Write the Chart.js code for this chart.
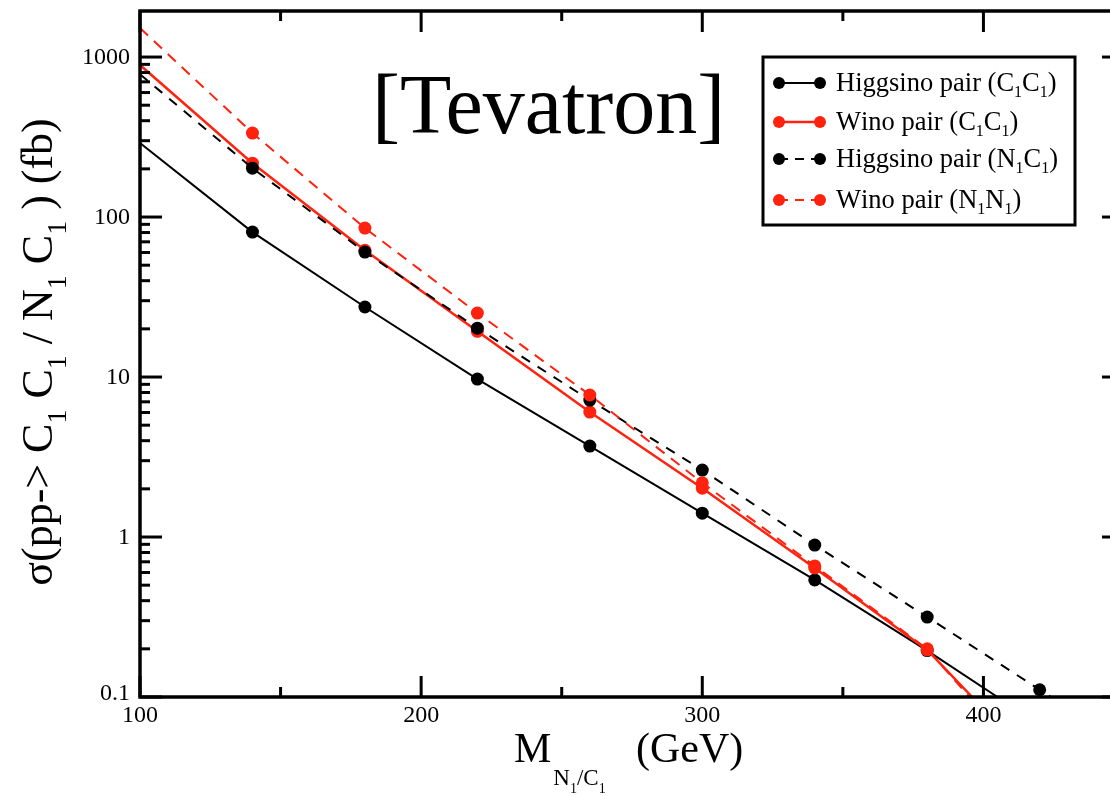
<!DOCTYPE html>
<html>
<head>
<meta charset="utf-8">
<script src="https://cdn.jsdelivr.net/npm/chart.js@4/dist/chart.umd.min.js"></script>
<style>
  html, body { margin: 0; padding: 0; background: #fff; overflow: hidden; width: 1110px; height: 796px; }
  #wrap { position: relative; width: 1110px; height: 796px; overflow: hidden; }
  canvas { display: block; }
</style>
</head>
<body>
<div id="wrap"><canvas id="c" width="1140" height="796"></canvas></div>
<script>
// Chargino / neutralino pair production cross sections at the Tevatron (fb)
// First and last entries of each series are where the curve enters / leaves the frame.
const massHiggsinoC1C1  = [100, 140, 180, 220, 260, 300, 340, 380, 405];
const sigmaHiggsinoC1C1 = [290, 80.5, 27.4, 9.71, 3.70, 1.41, 0.539, 0.195, 0.1];

const massWinoC1C1  = [100, 140, 180, 220, 260, 300, 340, 380, 396];
const sigmaWinoC1C1 = [891, 217, 62, 19.3, 6.04, 2.02, 0.64, 0.197, 0.1];

const massHiggsinoN1C1  = [100, 140, 180, 220, 260, 300, 340, 380, 420, 424];
const sigmaHiggsinoN1C1 = [780, 202, 60.4, 20.2, 7.18, 2.62, 0.891, 0.316, 0.111, 0.1];

const massWinoN1N1  = [100, 140, 180, 220, 260, 300, 340, 380, 395];
const sigmaWinoN1N1 = [1518, 335, 85.3, 25.1, 7.72, 2.18, 0.66, 0.2, 0.1];

const xMajorTicks = [100, 200, 300, 400];
const xMinorTicks = [150, 250, 350, 450];
const yMajorTicks = [0.1, 1, 10, 100, 1000];
const yTickLabels = ['0.1', '1', '10', '100', '1000'];

const legendLabels = [
  'Higgsino pair (C_1C_1)',
  'Wino pair (C_1C_1)',
  'Higgsino pair (N_1C_1)',
  'Wino pair (N_1N_1)'
];
const plotTitle = '[Tevatron]';
const yTitle = '\u03c3(pp-> C_1 C_1 / N_1 C_1 ) (fb)';

const RED = 'rgb(255,34,14)';
const BLACK = '#000';
const SERIF = '"Liberation Serif", "Times New Roman", serif';

function pts(ms, vs) { return ms.map((m, i) => ({ x: m, y: vs[i] })); }
function radii(ms) { return ms.map((m, i) => (i === 0 || i === ms.length - 1) ? 0 : 6.5); }

const datasets = [
  { label: legendLabels[3], data: pts(massWinoN1N1, sigmaWinoN1N1), borderColor: RED, backgroundColor: RED,
    borderWidth: 2, borderDash: [11, 8], pointRadius: radii(massWinoN1N1), order: 0 },
  { label: legendLabels[2], data: pts(massHiggsinoN1C1, sigmaHiggsinoN1C1), borderColor: BLACK, backgroundColor: BLACK,
    borderWidth: 2, borderDash: [10, 9], pointRadius: radii(massHiggsinoN1C1), order: 1 },
  { label: legendLabels[1], data: pts(massWinoC1C1, sigmaWinoC1C1), borderColor: RED, backgroundColor: RED,
    borderWidth: 2.5, borderDash: [], pointRadius: radii(massWinoC1C1), order: 2 },
  { label: legendLabels[0], data: pts(massHiggsinoC1C1, sigmaHiggsinoC1C1), borderColor: BLACK, backgroundColor: BLACK,
    borderWidth: 2, borderDash: [], pointRadius: radii(massHiggsinoC1C1), order: 3 }
];
datasets.forEach(d => { d.pointBorderWidth = 0; d.pointStyle = 'circle'; d.tension = 0; d.clip = 0; });

// Draws text where "_x" puts the single character x as a subscript.
function drawRich(ctx, str, x, y, size, subSize, subDrop) {
  let cx = x;
  for (let i = 0; i < str.length; i++) {
    const ch = str[i];
    if (ch === '_' && i + 1 < str.length) {
      ctx.font = subSize + 'px ' + SERIF;
      ctx.fillText(str[i + 1], cx, y + subDrop);
      cx += ctx.measureText(str[i + 1]).width;
      i++;
    } else {
      ctx.font = size + 'px ' + SERIF;
      ctx.fillText(ch, cx, y);
      cx += ctx.measureText(ch).width;
    }
  }
  return cx - x;
}
function richWidth(ctx, str, size, subSize) {
  let w = 0;
  for (let i = 0; i < str.length; i++) {
    if (str[i] === '_' && i + 1 < str.length) {
      ctx.font = subSize + 'px ' + SERIF; w += ctx.measureText(str[i + 1]).width; i++;
    } else {
      ctx.font = size + 'px ' + SERIF; w += ctx.measureText(str[i]).width;
    }
  }
  return w;
}

const framePlugin = {
  id: 'frame',
  afterDraw(chart) {
    const ctx = chart.ctx;
    const a = chart.chartArea;
    const xs = chart.scales.x, ys = chart.scales.y;
    ctx.save();
    ctx.strokeStyle = '#000';
    ctx.fillStyle = '#000';

    // inward ticks
    ctx.lineWidth = 3;
    ctx.lineCap = 'butt';
    const line = (x1, y1, x2, y2) => { ctx.beginPath(); ctx.moveTo(x1, y1); ctx.lineTo(x2, y2); ctx.stroke(); };
    xMajorTicks.forEach(v => { const p = xs.getPixelForValue(v); line(p, a.bottom, p, a.bottom - 21); line(p, a.top, p, a.top + 21); });
    xMinorTicks.forEach(v => { const p = xs.getPixelForValue(v); line(p, a.bottom, p, a.bottom - 10); line(p, a.top, p, a.top + 10); });
    yMajorTicks.forEach(v => { const p = ys.getPixelForValue(v); line(a.left, p, a.left + 22, p); line(a.right, p, a.right - 22, p); });
    yMajorTicks.slice(0, -1).forEach(dec => {
      for (let k = 2; k <= 9; k++) {
        const p = ys.getPixelForValue(dec * k);
        line(a.left, p, a.left + 10, p); line(a.right, p, a.right - 10, p);
      }
    });

    // frame
    ctx.lineWidth = 3.5;
    ctx.strokeRect(a.left, a.top, a.right - a.left, a.bottom - a.top);

    // tick labels
    ctx.font = '24px ' + SERIF;
    ctx.textAlign = 'right';
    ctx.textBaseline = 'middle';
    yMajorTicks.forEach((v, i) => {
      const p = ys.getPixelForValue(v);
      ctx.fillText(yTickLabels[i], a.left - 10, v === 0.1 ? p - 3 : p + 1);
    });
    ctx.textAlign = 'center';
    xMajorTicks.forEach(v => {
      const p = xs.getPixelForValue(v);
      ctx.fillText(String(v), p, a.bottom + 19);
    });

    // x title: M with subscript N1/C1, then (GeV)
    ctx.textAlign = 'left';
    ctx.textBaseline = 'alphabetic';
    let tx = 514;
    ctx.font = '42px ' + SERIF; ctx.fillText('M', tx, 762); tx += ctx.measureText('M').width + 2;
    ctx.font = '23px ' + SERIF; ctx.fillText('N', tx, 785); tx += ctx.measureText('N').width;
    ctx.font = '14px ' + SERIF; ctx.fillText('1', tx, 793); tx += ctx.measureText('1').width;
    ctx.font = '23px ' + SERIF; ctx.fillText('/C', tx, 785); tx += ctx.measureText('/C').width;
    ctx.font = '14px ' + SERIF; ctx.fillText('1', tx, 793);
    ctx.font = '42px ' + SERIF; ctx.fillText('(GeV)', 636, 762);

    // y title (rotated)
    ctx.save();
    ctx.translate(52, 352);
    ctx.rotate(-Math.PI / 2);
    const yw = richWidth(ctx, yTitle, 44, 28);
    drawRich(ctx, yTitle, -yw / 2, 0, 44, 28, 14);
    ctx.restore();

    // plot title
    ctx.font = '84px ' + SERIF;
    ctx.fillText(plotTitle, 372, 133);

    // legend
    const lx = 763, ly = 57, lw = 312, lh = 168;
    ctx.fillStyle = '#fff';
    ctx.fillRect(lx, ly, lw, lh);
    ctx.lineWidth = 3;
    ctx.strokeStyle = '#000';
    ctx.strokeRect(lx, ly, lw, lh);
    const rowY = [83, 122, 159, 200];
    const legendSets = [datasets[3], datasets[2], datasets[1], datasets[0]];
    legendSets.forEach((d, i) => {
      const y = rowY[i];
      ctx.strokeStyle = d.borderColor;
      ctx.fillStyle = d.backgroundColor;
      ctx.lineWidth = d.borderWidth;
      ctx.setLineDash(d.borderDash.length ? [9, 7] : []);
      ctx.beginPath(); ctx.moveTo(779, y); ctx.lineTo(820, y); ctx.stroke();
      ctx.setLineDash([]);
      [779, 820].forEach(px => { ctx.beginPath(); ctx.arc(px, y, 6, 0, Math.PI * 2); ctx.fill(); });
      ctx.fillStyle = '#000';
      drawRich(ctx, d.label, 836, y + 8, 26.5, 16, 6);
    });
    ctx.restore();
  }
};

new Chart(document.getElementById('c'), {
  type: 'line',
  data: { datasets },
  options: {
    responsive: false,
    animation: false,
    layout: { padding: { left: 140, top: 11, right: 16, bottom: 99 } },
    plugins: { legend: { display: false }, tooltip: { enabled: false } },
    scales: {
      x: { type: 'linear', min: 100, max: 450, display: false },
      y: { type: 'logarithmic', min: 0.1, max: 1940, display: false }
    }
  },
  plugins: [framePlugin]
});
</script>
</body>
</html>
